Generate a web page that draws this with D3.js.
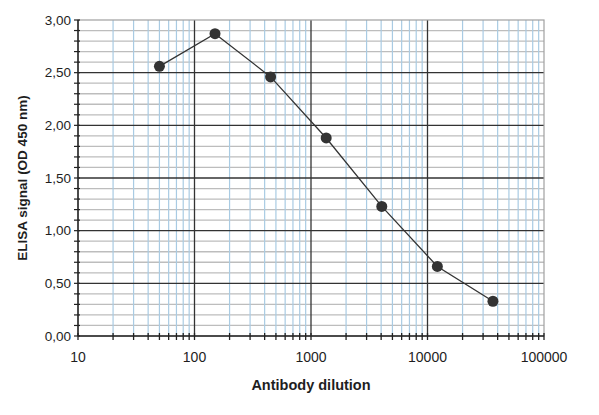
<!DOCTYPE html>
<html>
<head>
<meta charset="utf-8">
<script src="https://cdn.jsdelivr.net/npm/d3@7"></script>
<style>
  body { margin: 0; background: #fff; }
  text { font-family: "Liberation Sans", Arial, sans-serif; fill: #1e1e1e; }
</style>
</head>
<body>
<div id="chart"></div>
<script>
// 3-fold serial dilutions of the antibody
const dilutions = [50, 150, 450, 1350, 4050, 12150, 36450];
const signal = [2.56, 2.87, 2.46, 1.88, 1.23, 0.66, 0.33];

const xTickLabels = [10, 100, 1000, 10000, 100000];
const yTickLabels = [0, 0.5, 1, 1.5, 2, 2.5, 3];

const width = 599, height = 415;
const margin = { left: 78, right: 55, top: 20, bottom: 79 };

const svg = d3.select("#chart")
    .append("svg")
    .attr("width", width)
    .attr("height", height);

const x = d3.scaleLog()
    .domain([10, 100000])
    .range([margin.left, width - margin.right]);

const y = d3.scaleLinear()
    .domain([0, 3])
    .range([height - margin.bottom, margin.top]);

const fmt = d => d.toFixed(2).replace(".", ",");

// minor x values: 2..9 in each decade
const minorX = [];
for (let p = 1; p < 5; p++) {
    for (let k = 2; k <= 9; k++) minorX.push(k * Math.pow(10, p));
}
const minorY = d3.range(0, 31).map(i => i / 10).filter(v => Math.round(v * 10) % 5 !== 0);

const grid = svg.append("g").attr("id", "grid");

// horizontal minor grid (gray)
grid.selectAll(".hminor")
    .data(minorY)
    .enter()
    .append("line")
    .attr("x1", x(10)).attr("x2", x(100000))
    .attr("y1", d => y(d)).attr("y2", d => y(d))
    .attr("stroke", "#bdbdbd")
    .attr("stroke-width", 1.3);

// vertical minor grid (light blue)
grid.selectAll(".vminor")
    .data(minorX)
    .enter()
    .append("line")
    .attr("x1", d => x(d)).attr("x2", d => x(d))
    .attr("y1", y(0)).attr("y2", y(3))
    .attr("stroke", "#a9cbe3")
    .attr("stroke-width", 1.2);

// plot frame (top/right gray)
svg.append("rect")
    .attr("x", x(10)).attr("y", y(3))
    .attr("width", x(100000) - x(10))
    .attr("height", y(0) - y(3))
    .attr("fill", "none")
    .attr("stroke", "#a0a0a0")
    .attr("stroke-width", 1.2);

// major horizontal grid
grid.selectAll(".hmajor")
    .data(yTickLabels.filter(d => d > 0 && d < 3))
    .enter()
    .append("line")
    .attr("x1", x(10)).attr("x2", x(100000))
    .attr("y1", d => y(d)).attr("y2", d => y(d))
    .attr("stroke", "#333")
    .attr("stroke-width", 1.3);

// major vertical grid
grid.selectAll(".vmajor")
    .data(xTickLabels.filter(d => d > 10 && d < 100000))
    .enter()
    .append("line")
    .attr("x1", d => x(d)).attr("x2", d => x(d))
    .attr("y1", y(0)).attr("y2", y(3))
    .attr("stroke", "#333")
    .attr("stroke-width", 1.3);

// axes
const xAxis = svg.append("g").attr("transform", `translate(0,${y(0)})`);
xAxis.append("line")
    .attr("x1", x(10)).attr("x2", x(100000))
    .attr("stroke", "#222").attr("stroke-width", 1.5);
xAxis.selectAll(".tk")
    .data(minorX.concat(xTickLabels))
    .enter()
    .append("line")
    .attr("x1", d => x(d)).attr("x2", d => x(d))
    .attr("y1", -3).attr("y2", 4)
    .attr("stroke", "#222").attr("stroke-width", 1.3);
xAxis.selectAll("text")
    .data(xTickLabels)
    .enter()
    .append("text")
    .attr("x", d => x(d))
    .attr("y", 26)
    .attr("text-anchor", "middle")
    .attr("font-size", 14)
    .text(d => d);

const yAxis = svg.append("g").attr("transform", `translate(${x(10)},0)`);
yAxis.append("line")
    .attr("y1", y(0)).attr("y2", y(3))
    .attr("stroke", "#222").attr("stroke-width", 1.5);
yAxis.selectAll(".tk")
    .data(minorY.concat(yTickLabels))
    .enter()
    .append("line")
    .attr("y1", d => y(d)).attr("y2", d => y(d))
    .attr("x1", -4).attr("x2", 2)
    .attr("stroke", "#222").attr("stroke-width", 1.2);
yAxis.selectAll("text")
    .data(yTickLabels)
    .enter()
    .append("text")
    .attr("x", -7)
    .attr("y", d => y(d) + 4.5)
    .attr("text-anchor", "end")
    .attr("font-size", 13.5)
    .text(fmt);

// axis titles
svg.append("text")
    .attr("x", (x(10) + x(100000)) / 2)
    .attr("y", 390)
    .attr("text-anchor", "middle")
    .attr("font-size", 14.5)
    .attr("font-weight", "bold")
    .text("Antibody dilution");

svg.append("text")
    .attr("transform", `translate(27,${(y(0) + y(3)) / 2}) rotate(-90)`)
    .attr("text-anchor", "middle")
    .attr("font-size", 13.5)
    .attr("font-weight", "bold")
    .text("ELISA signal (OD 450 nm)");

// data line and points
const pts = dilutions.map((d, i) => [d, signal[i]]);
svg.append("path")
    .datum(pts)
    .attr("fill", "none")
    .attr("stroke", "#333")
    .attr("stroke-width", 1.3)
    .attr("d", d3.line().x(d => x(d[0])).y(d => y(d[1])));

svg.selectAll(".pt")
    .data(pts)
    .enter()
    .append("circle")
    .attr("cx", d => x(d[0]))
    .attr("cy", d => y(d[1]))
    .attr("r", 5.5)
    .attr("fill", "#333");
</script>
</body>
</html>
